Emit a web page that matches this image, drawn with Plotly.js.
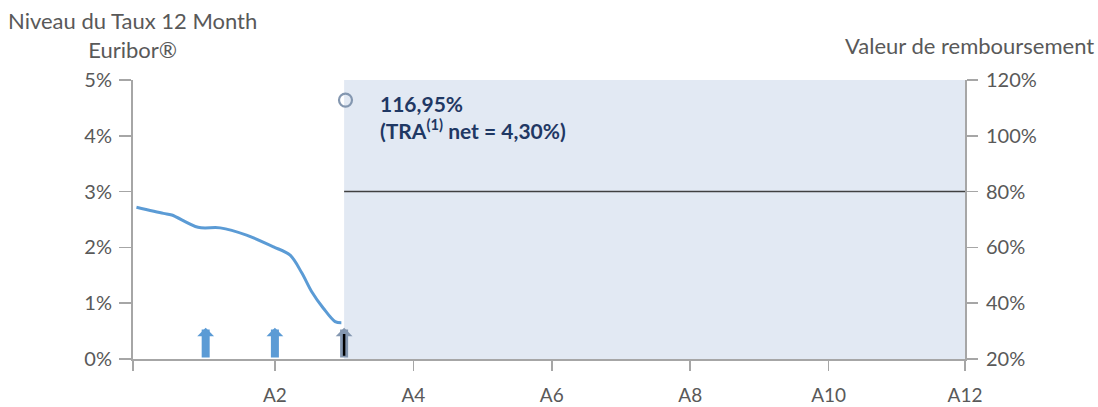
<!DOCTYPE html>
<html>
<head>
<meta charset="utf-8">
<script src="https://cdn.plot.ly/plotly-3.0.1.min.js"></script>
<style>html,body{margin:0;padding:0;background:#fff;}#chart{width:1098px;height:407px;}</style>
</head>
<body>
<div id="chart"></div>
<script>
// Euribor 12M curve (years, %)
const curveYears = [0, 0.39, 0.51, 0.89, 1.21, 1.59, 1.98, 2.22, 2.39, 2.53, 2.70, 2.87, 2.96];
const curveRates = [2.72, 2.61, 2.58, 2.36, 2.35, 2.22, 2.01, 1.86, 1.54, 1.21, 0.91, 0.67, 0.65];
// observation arrows
const obsYears = [1, 2, 3];
const obsHeight = 0.56;
const obsColors = ['#5b9bd5', '#5b9bd5', '#8497b0'];
// redemption level (right axis, %)
const levelYears = [3, 11.97];
const levelValues = [80, 80];
// redemption point
const pointYear = [3.02];
const pointValue = [112.8];
const pointLabel1 = '<b>116,95%</b>';
const pointLabel2 = '<b>(TRA<sup>(1)</sup> net = 4,30%)</b>';
// axes
const xTickVals = [-0.05, 2, 4, 6, 8, 10, 11.97];
const xTickText = ['', 'A2', 'A4', 'A6', 'A8', 'A10', 'A12'];
const xRange = [-0.05, 11.97];
const leftRange = [0, 5];
const rightRange = [20, 120];
const shadeStart = 3;

const FONT = 'Lato, "Open Sans", sans-serif';
const TXT = '#595959';
const AX = '#a6a6a6';

const traces = [
  {x: curveYears, y: curveRates, type: 'scatter', mode: 'lines', yaxis: 'y',
   line: {color: '#5b9bd5', width: 3, shape: 'spline', smoothing: 0.9}, hoverinfo: 'skip'},
  {x: levelYears, y: levelValues, type: 'scatter', mode: 'lines', yaxis: 'y2',
   line: {color: '#404040', width: 1.5}, hoverinfo: 'skip'},
  {x: pointYear, y: pointValue, type: 'scatter', mode: 'markers', yaxis: 'y2',
   marker: {symbol: 'circle-open', size: 13, color: '#8497b0', line: {width: 2.2, color: '#8497b0'}}, hoverinfo: 'skip'}
];

const annotations = [];
obsYears.forEach((yr, i) => {
  annotations.push({x: yr, y: obsHeight, xref: 'x', yref: 'y', ax: yr, ay: 0, axref: 'x', ayref: 'y',
    text: '', showarrow: true, arrowhead: 1, arrowwidth: 8, arrowsize: 0.35, arrowcolor: obsColors[i], standoff: 0});
});
annotations.push({x: obsYears[2], y: 0.45, xref: 'x', yref: 'y', ax: obsYears[2], ay: 0.03, axref: 'x', ayref: 'y',
  text: '', showarrow: true, arrowhead: 0, arrowwidth: 2.5, arrowcolor: '#000000'});
annotations.push({x: 3.49, y: pointValue[0], xref: 'x', yref: 'y2', xanchor: 'left', yanchor: 'middle', yshift: -3,
  text: pointLabel1, showarrow: false, align: 'left', font: {family: FONT, size: 21, color: '#1f3864'}});
annotations.push({x: 3.49, y: pointValue[0], xref: 'x', yref: 'y2', xanchor: 'left', yanchor: 'middle', yshift: -29,
  text: pointLabel2, showarrow: false, align: 'left', font: {family: FONT, size: 21, color: '#1f3864'}});
annotations.push({x: -0.001, y: 1.163, xref: 'paper', yref: 'paper', xanchor: 'center', yanchor: 'middle',
  text: 'Niveau du Taux 12 Month<br>Euribor®', showarrow: false, align: 'center', font: {family: FONT, size: 22, color: TXT}});
annotations.push({x: 1.157, y: 1.1254, xref: 'paper', yref: 'paper', xanchor: 'right', yanchor: 'middle',
  text: 'Valeur de remboursement', showarrow: false, font: {family: FONT, size: 22, color: TXT}});

const layout = {
  width: 1098, height: 407,
  margin: {l: 133, r: 133, t: 80, b: 48},
  paper_bgcolor: '#ffffff', plot_bgcolor: '#ffffff',
  showlegend: false,
  font: {family: FONT, size: 20, color: TXT},
  xaxis: {range: xRange, tickmode: 'array', tickvals: xTickVals, ticktext: xTickText,
    showgrid: false, zeroline: false, showline: true, linecolor: AX, linewidth: 2,
    ticks: 'outside', ticklen: 10, tickcolor: AX, tickwidth: 1.5, ticklabelstandoff: 8,
    tickfont: {family: FONT, size: 19, color: TXT}},
  yaxis: {range: leftRange, dtick: 1, ticksuffix: '%', showgrid: false, zeroline: false,
    showline: true, linecolor: AX, linewidth: 2, ticks: 'outside', ticklen: 12, tickcolor: AX, tickwidth: 1.5,
    ticklabelstandoff: 3, tickfont: {family: FONT, size: 20, color: TXT}},
  yaxis2: {range: rightRange, dtick: 20, ticksuffix: '%', overlaying: 'y', side: 'right',
    showgrid: false, zeroline: false, showline: true, linecolor: AX, linewidth: 2,
    ticks: 'outside', ticklen: 11, tickcolor: AX, tickwidth: 1.5, ticklabelstandoff: 4,
    tickfont: {family: FONT, size: 20, color: TXT}},
  shapes: [{type: 'rect', xref: 'x', yref: 'paper', x0: shadeStart, x1: xRange[1], y0: 0, y1: 1,
    fillcolor: '#e2e9f3', line: {width: 0}, layer: 'below'}],
  annotations: annotations
};

Plotly.newPlot('chart', traces, layout, {displayModeBar: false, staticPlot: true});
</script>
</body>
</html>
